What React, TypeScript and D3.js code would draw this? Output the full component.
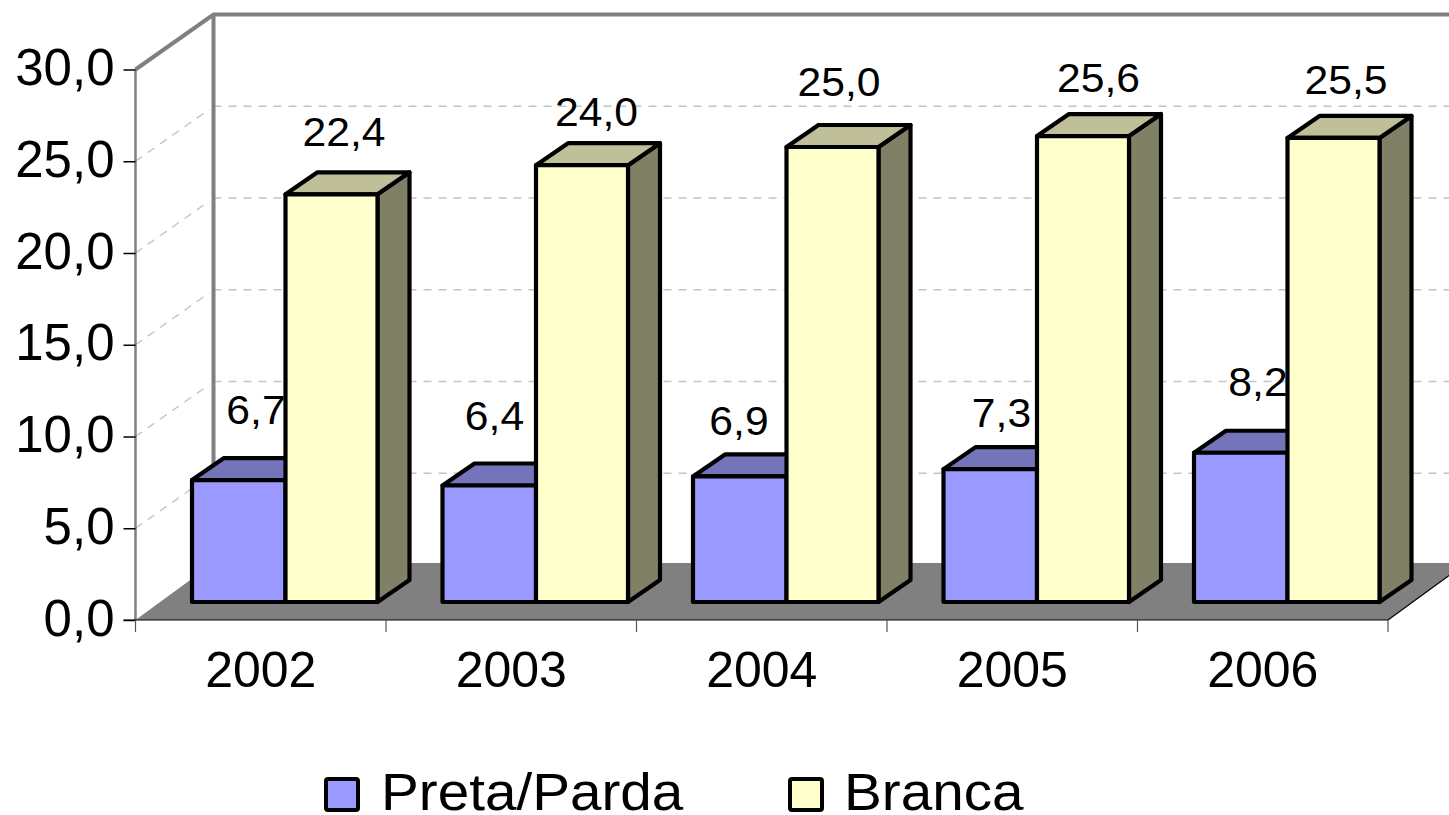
import React, { useEffect, useRef } from "react"
import { scaleBand, scaleLinear, axisLeft, axisBottom, select, line } from "d3"

const years = ["2002", "2003", "2004", "2005", "2006"]
const pretaParda = [6.7, 6.4, 6.9, 7.3, 8.2]
const branca = [22.4, 24.0, 25.0, 25.6, 25.5]
const yTicks = [0, 5, 10, 15, 20, 25, 30]

/** Layout: how far each data label sits above the back edge of its bar, and its sideways nudge */
const pretaLift = [34, 34, 19, 20, 35]
const brancaLift = [26, 17, 29, 22, 22]
const pretaNudge = [0, -12, -18, -6, 0]
const brancaNudge = [1, 3, -5, 4, 1]

const width = 1449
const height = 815
const fontFamily = "'Liberation Sans', Arial, sans-serif"
const ptBr = (v: number) => v.toFixed(1).replace(".", ",")

/** Front plane of the 3D box, and how far back the wall sits */
const plotLeft = 135.5
const plotRight = 1388
const plotBottom = 620
const plotTop = 69.5
const depthX = 78
const depthY = -55
const floorDepthY = -57

/** Bars stand on a line set into the floor, with their own depth */
const barBase = 602
const barUnit = 18.2
const barDepthX = 32
const barDepthY = -22
const pretaWidth = 93.5
const brancaWidth = 92
const barInset = 56.5

const xScale = scaleBand<string>().domain(years).range([plotLeft, plotRight])
const yScale = scaleLinear().domain([0, 30]).range([plotBottom, plotTop])
const barScale = scaleLinear().domain([0, 30]).range([barBase, barBase - 30 * barUnit])

const path = line()

const colors = {
	preta: { front: "#9999ff", top: "#7474bb", side: "#5c5c96" },
	branca: { front: "#ffffcc", top: "#bfbf99", side: "#808066" },
}

const Bar = ({ x, w, value, fill }: { x: number; w: number; value: number; fill: typeof colors.preta }) => {
	const y = barScale(value)
	const x1 = x + w
	const front: [number, number][] = [[x, barBase], [x, y], [x1, y], [x1, barBase]]
	const top: [number, number][] = [[x, y], [x + barDepthX, y + barDepthY], [x1 + barDepthX, y + barDepthY], [x1, y]]
	const side: [number, number][] = [[x1, y], [x1 + barDepthX, y + barDepthY], [x1 + barDepthX, barBase + barDepthY], [x1, barBase]]
	const common = { stroke: "#000", strokeWidth: 4.2, strokeLinejoin: "round" as const }
	return (
		<g>
			<path d={path(side) + "Z"} fill={fill.side} {...common} />
			<path d={path(top) + "Z"} fill={fill.top} {...common} />
			<path d={path(front) + "Z"} fill={fill.front} {...common} />
		</g>
	)
}

const Label = ({ x, y, text, size = 41, stretch = 1.04, anchor = "middle" }: any) => (
	<text
		transform={`translate(${x},${y}) scale(${stretch},1)`}
		textAnchor={anchor}
		fontFamily={fontFamily}
		fontSize={size}
		fill="#000"
	>
		{text}
	</text>
)

export default function App() {
	const yAxisRef = useRef<SVGGElement>(null)
	const xAxisRef = useRef<SVGGElement>(null)

	useEffect(() => {
		const yAxis = axisLeft(yScale).tickValues(yTicks).tickSize(12).tickFormat(d => ptBr(d as number))
		const yGroup = select(yAxisRef.current!).call(yAxis as any)
		yGroup.select(".domain").remove()
		yGroup.selectAll("line").attr("stroke", "#000").attr("stroke-width", 1.5)
		yGroup.selectAll("text")
			.attr("x", -21)
			.attr("dy", 0)
			.attr("y", 15)
			.attr("font-family", fontFamily)
			.attr("font-size", 51)
			.attr("fill", "#000")

		/** Ticks fall on the band edges, labels in the band centre */
		const xAxis = axisBottom(xScale).tickSize(0)
		const xGroup = select(xAxisRef.current!).call(xAxis as any)
		xGroup.select(".domain").remove()
		xGroup.selectAll("text")
			.attr("y", 67)
			.attr("dy", 0)
			.attr("font-family", fontFamily)
			.attr("font-size", 50)
			.attr("fill", "#000")
	}, [])

	const edges = [...years.map(y => xScale(y)!), plotRight]
	const floor: [number, number][] = [
		[plotLeft, plotBottom],
		[plotRight, plotBottom],
		[plotRight + depthX, plotBottom + floorDepthY],
		[plotLeft + depthX, plotBottom + floorDepthY],
	]

	return (
		<svg
			width={width}
			height={height}
			viewBox={`0 0 ${width} ${height}`}
			style={{ position: "absolute", left: 0, top: 0, background: "#fff" }}
		>
			{/* Floor */}
			<path d={path(floor) + "Z"} fill="#808080" />
			<path
				d={path([[plotRight, plotBottom], [plotRight + depthX, plotBottom + floorDepthY]])!}
				stroke="#000"
				strokeWidth={1.2}
				fill="none"
			/>

			{/* Gridlines on side and back walls */}
			{yTicks.filter(t => t > 0 && t < 30).map(t => (
				<g key={t} stroke="#c4c4c4" strokeWidth={1.4} strokeDasharray="8 7" fill="none">
					<path d={path([[plotLeft, yScale(t)], [plotLeft + depthX - 4, yScale(t) + depthY + 3]])!} />
					<path d={path([[plotLeft + depthX, yScale(t) + depthY], [width, yScale(t) + depthY]])!} />
				</g>
			))}

			{/* Walls */}
			<path
				d={path([
					[plotLeft, plotTop],
					[plotLeft + depthX, plotTop + depthY],
					[width, plotTop + depthY],
				])!}
				stroke="#808080"
				strokeWidth={4}
				fill="none"
			/>
			<path
				d={path([[plotLeft + depthX, plotTop + depthY], [plotLeft + depthX, plotBottom + floorDepthY]])!}
				stroke="#808080"
				strokeWidth={4}
				fill="none"
			/>
			<path d={path([[plotLeft, plotTop], [plotLeft, plotBottom]])!} stroke="#808080" strokeWidth={2.5} fill="none" />

			{/* Axes */}
			<g ref={yAxisRef} transform={`translate(${plotLeft},0)`} />
			<path d={path([[plotLeft - 12, plotBottom], [plotRight, plotBottom]])!} stroke="#000" strokeWidth={1.2} fill="none" />
			{edges.map((x, i) => (
				<path key={i} d={path([[x, plotBottom], [x, plotBottom + 12]])!} stroke="#555" strokeWidth={1.2} fill="none" />
			))}
			<g ref={xAxisRef} transform={`translate(0,${plotBottom})`} />

			{/* Bars */}
			{years.map((year, i) => {
				const x = xScale(year)! + barInset
				return (
					<g key={year}>
						<Bar x={x} w={pretaWidth} value={pretaParda[i]} fill={colors.preta} />
						<Label
							x={x + 64 + pretaNudge[i]}
							y={barScale(pretaParda[i]) + barDepthY - pretaLift[i]}
							text={ptBr(pretaParda[i])}
						/>
						<Bar x={x + pretaWidth} w={brancaWidth} value={branca[i]} fill={colors.branca} />
						<Label
							x={x + 151 + brancaNudge[i]}
							y={barScale(branca[i]) + barDepthY - brancaLift[i]}
							text={ptBr(branca[i])}
						/>
					</g>
				)
			})}

			{/* Legend */}
			<rect x={326} y={779} width={32} height={31} fill={colors.preta.front} stroke="#000" strokeWidth={4} rx={2} />
			<Label x={381} y={810} text="Preta/Parda" size={52} stretch={1.09} anchor="start" />
			<rect x={790} y={779} width={32} height={31} fill={colors.branca.front} stroke="#000" strokeWidth={4} rx={2} />
			<Label x={844} y={810} text="Branca" size={52} stretch={1.09} anchor="start" />
		</svg>
	)
}
